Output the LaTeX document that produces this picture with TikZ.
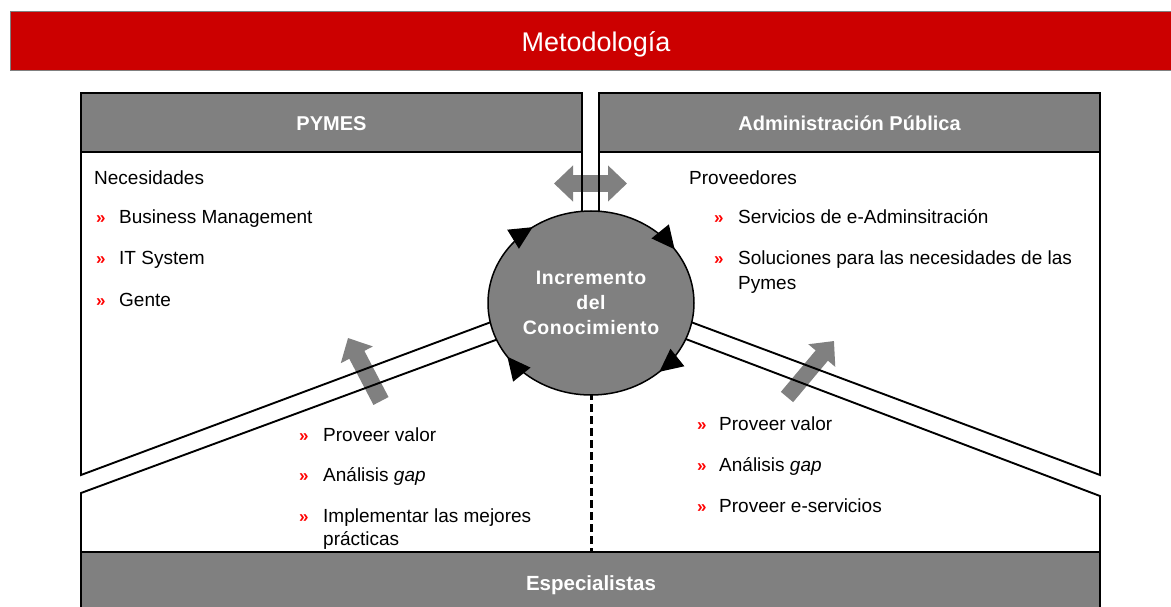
\documentclass[tikz,border=0pt]{standalone}
\usepackage{fontspec}
\setmainfont{Liberation Sans}
\usetikzlibrary{arrows.meta,decorations.markings}
\definecolor{bannerred}{HTML}{CC0000}
\definecolor{boxgray}{HTML}{808080}
\definecolor{bulletred}{HTML}{FF0000}
\begin{document}
\begin{tikzpicture}[x=1pt,y=-1pt,
  txt/.style={anchor=base west,inner sep=0pt,font=\fontsize{19}{24}\selectfont},
  bul/.style={anchor=base west,inner sep=0pt,text=bulletred,font=\bfseries\fontsize{17}{20}\selectfont},
  hdr/.style={anchor=base,inner sep=0pt,text=white,font=\bfseries\fontsize{20}{24}\selectfont},
  hdrbox/.style={fill=boxgray,draw=black,line width=1.5pt},
  outline/.style={draw=black,line width=1.9pt},
  grayarrow/.style={draw=boxgray,line width=17pt,-{Triangle[length=19pt,width=35pt]}},
]
\useasboundingbox (0,0) rectangle (1171,607);
\fill[white] (0,0) rectangle (1171,607);

% banner
\fill[bannerred] (10,12) rectangle (1171,71);
\draw[boxgray,line width=1pt] (1171,12) -- (10,12) -- (10,71) -- (1171,71);
\node[anchor=base,inner sep=0pt,text=white,font=\fontsize{27}{30}\selectfont] (title) at (596,52) {Metodología};

% headers
\draw[hdrbox] (81,93) rectangle (582,152);
\draw[hdrbox] (599,93) rectangle (1100,152);
\node[hdr] (pymes) at (331.5,131) {PYMES};
\node[hdr] (adm) at (849.5,131) {Administración Pública};

% bottom bar
\fill[boxgray] (81,552) rectangle (1100,608);
\draw[outline] (81,608) -- (81,552) -- (1100,552) -- (1100,608);
\node[hdr,font=\bfseries\fontsize{20.5}{24}\selectfont] (esp) at (591,590) {Especialistas};

% gray arrows
\draw[boxgray,line width=17pt,{Triangle[length=19pt,width=35pt]}-{Triangle[length=19pt,width=35pt]}] (554,183.5) -- (627,183.5);
\coordinate (la1) at (381,401);
\coordinate (la2) at (348,338);
\coordinate (ra1) at (787,397);
\coordinate (ra2) at (834,341);
\draw[grayarrow] (la1) -- (la2);
\draw[grayarrow,line width=16pt,-{Triangle[length=19pt,width=34pt]}] (ra1) -- (ra2);

% outlines
\draw[outline] (582,152) -- (582,240);
\draw[outline] (599,152) -- (599,240);
\draw[outline] (500,318.7) -- (81,475) -- (81,152);
\draw[outline] (500,338.4) -- (81,493) -- (81,552);
\draw[outline] (682,318.7) -- (1100,475) -- (1100,152);
\draw[outline] (682,337.6) -- (1100,496) -- (1100,552);

% dashed divider
\draw[line width=3pt,dash pattern=on 8pt off 4pt] (591,392) -- (591,552);

% central ellipse
\path[fill=boxgray,draw=black,line width=1.5pt,
  postaction={decorate},
  decoration={markings,
    mark=at position 0.095 with {\arrowreversed{Triangle[length=23pt,width=22pt]}},
    mark=at position 0.35 with {\arrowreversed{Triangle[length=23pt,width=22pt]}},
    mark=at position 0.595 with {\arrowreversed{Triangle[length=23pt,width=22pt]}},
    mark=at position 0.87 with {\arrowreversed{Triangle[length=23pt,width=22pt]}}}]
  (591,303) ellipse [x radius=103pt, y radius=92pt];
\node[align=center,inner sep=0pt,text=white,
  font=\bfseries\fontsize{19.5}{25}\selectfont\addfontfeatures{LetterSpace=3}] (inc) at (591,303)
  {Incremento\\del\\Conocimiento};

% left panel text
\node[txt] (nec) at (94,185) {Necesidades};
\node[bul] (b1) at (96,224) {»};
\node[txt] (t1) at (119,224) {Business Management};
\node[bul] (b2) at (96,265) {»};
\node[txt] (t2) at (119,265) {IT System};
\node[bul] (b3) at (96,306) {»};
\node[txt] (t3) at (119,306) {Gente};

% right panel text
\node[txt] (prov) at (689,185) {Proveedores};
\node[bul] (b4) at (714,224) {»};
\node[txt] (t4) at (738,224) {Servicios de e-Adminsitración};
\node[bul] (b5) at (714,265) {»};
\node[txt] (t5) at (738,265) {Soluciones para las necesidades de las};
\node[txt] (t5b) at (738,289) {Pymes};

% bottom-left text
\node[bul] (b6) at (299,441) {»};
\node[txt] (t6) at (323,441) {Proveer valor};
\node[bul] (b7) at (299,481) {»};
\node[txt] (t7) at (323,481) {Análisis \textit{gap}};
\node[bul] (b8) at (299,522) {»};
\node[txt] (t8) at (323,522) {Implementar las mejores};
\node[txt] (t8b) at (323,545) {prácticas};

% bottom-right text
\node[bul] (b9) at (697,430) {»};
\node[txt] (t9) at (719,430) {Proveer valor};
\node[bul] (b10) at (697,471) {»};
\node[txt] (t10) at (719,471) {Análisis \textit{gap}};
\node[bul] (b11) at (697,512) {»};
\node[txt] (t11) at (719,512) {Proveer e-servicios};
\end{tikzpicture}
\end{document}
